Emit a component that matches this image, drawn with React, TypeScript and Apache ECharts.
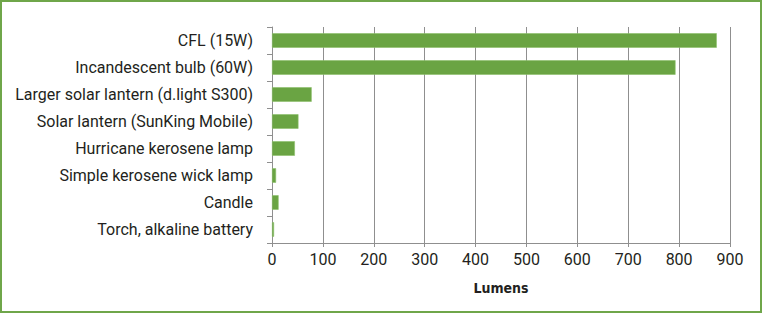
import React, { useEffect, useRef } from "react";
import * as echarts from "echarts";

const categories = [
  "CFL (15W)",
  "Incandescent bulb (60W)",
  "Larger solar lantern (d.light S300)",
  "Solar lantern (SunKing Mobile)",
  "Hurricane kerosene lamp",
  "Simple kerosene wick lamp",
  "Candle",
  "Torch, alkaline battery",
];
const lumens = [874, 793, 78, 52, 45, 8, 13, 4];
const axisTitle = "Lumens";

export default function App() {
  const ref = useRef<HTMLDivElement>(null);
  useEffect(() => {
    const chart = echarts.init(ref.current!, null, { renderer: "svg" });
    const font = "Roboto, 'Liberation Sans', sans-serif";
    chart.setOption({
      animation: false,
      backgroundColor: "#ffffff",
      textStyle: { fontFamily: font },
      graphic: [
        {
          type: "rect",
          shape: { x: 1, y: 1, width: 760, height: 311 },
          style: { fill: "none", stroke: "#6fa64a", lineWidth: 2 },
          silent: true,
        },
      ],
      grid: { left: 272, right: 32, top: 27, bottom: 70 },
      xAxis: {
        type: "value",
        min: 0,
        max: 900,
        interval: 100,
        name: axisTitle,
        nameLocation: "middle",
        nameGap: 38,
        nameTextStyle: {
          fontFamily: "'DejaVu Sans Condensed', 'Liberation Sans Narrow', sans-serif",
          fontWeight: "bold",
          fontSize: 14,
          color: "#231f20",
        },
        axisLine: { show: true, lineStyle: { color: "#8f8f8f", width: 1 } },
        axisTick: { show: true, length: 4, lineStyle: { color: "#8f8f8f" } },
        axisLabel: { color: "#231f20", fontSize: 16, margin: 8 },
        splitLine: { show: true, lineStyle: { color: "#8f8f8f", width: 1 } },
      },
      yAxis: {
        type: "category",
        data: categories,
        inverse: true,
        axisLine: { show: true, lineStyle: { color: "#8f8f8f", width: 1 } },
        axisTick: { show: true, length: 5, lineStyle: { color: "#8f8f8f" } },
        axisLabel: { color: "#231f20", fontSize: 16, margin: 19 },
        splitLine: { show: false },
      },
      series: [
        {
          type: "bar",
          data: lumens,
          barCategoryGap: "46%",
          itemStyle: { color: "#6aa443", borderColor: "#8cbf6a", borderWidth: 0.6 },
        },
      ],
    });
    return () => chart.dispose();
  }, []);
  return (
    <div
      ref={ref}
      style={{ position: "fixed", left: 0, top: 0, width: 762, height: 313 }}
    />
  );
}
